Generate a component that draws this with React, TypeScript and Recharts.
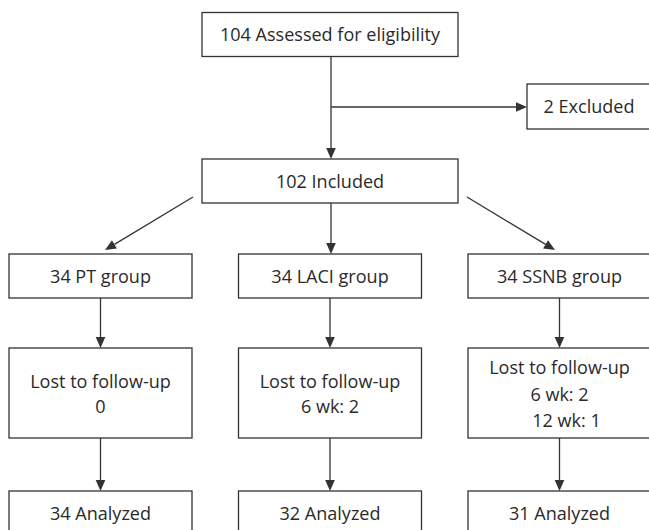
import { ComposedChart, XAxis, YAxis, ReferenceArea, ReferenceLine } from "recharts";

// flow counts
const assessed = 104;
const excluded = 2;
const included = 102;
const groupNames = ["PT", "LACI", "SSNB"];
const groupSizes = [34, 34, 34];
const lostCounts = [["0"], ["6 wk: 2"], ["6 wk: 2", "12 wk: 1"]];
const analyzed = [34, 32, 31];

// layout, in chart units (one unit = one pixel)
const W = 649;
const H = 530;
const colCenters = [100.5, 330, 559.5];
const colWidth = 183;
const mainBox = [202, 458];
const excludedBox = [527, 651];
const rows = {
  top: [12.5, 56.5],
  excluded: [84, 129],
  included: [159, 203],
  group: [254, 298],
  lost: [348, 438],
  analyzed: [491, 535],
};
const splitY = 107;

const INK = "#333";
const FONT = "'Open Sans', sans-serif";

function boxShape(lines: string[], lastShift = 0) {
  return (p: any) => {
    const { x, y, width, height } = p;
    const cx = x + width / 2;
    const cy = y + height / 2 + (lines.length > 1 ? 1 : 0);
    const gap = lines.length > 2 ? 26.5 : 25;
    const first = cy - ((lines.length - 1) * gap) / 2;
    return (
      <g>
        <rect x={x} y={y} width={width} height={height} fill="#fff" stroke={INK} strokeWidth={1.3} />
        {lines.map((t, i) => {
          const shift = i === lines.length - 1 && lines.length > 2 ? lastShift : 0;
          return (
            <text
              key={i}
              transform={`translate(${cx + shift},${first + i * gap}) scale(0.95,1)`}
              dy="0.36em"
              textAnchor="middle"
              fontFamily={FONT}
              fontSize={19}
              fill="#2a2a2a"
            >
              {t}
            </text>
          );
        })}
      </g>
    );
  };
}

function arrowShape(head: boolean) {
  return (p: any) => {
    const { x1, y1, x2, y2 } = p;
    const dx = x2 - x1;
    const dy = y2 - y1;
    const len = Math.sqrt(dx * dx + dy * dy) || 1;
    const ux = dx / len;
    const uy = dy / len;
    const hl = 11;
    const hw = 4.8;
    const bx = x2 - ux * hl;
    const by = y2 - uy * hl;
    return (
      <g>
        <line x1={x1} y1={y1} x2={head ? bx : x2} y2={head ? by : y2} stroke={INK} strokeWidth={1.3} />
        {head && (
          <polygon
            points={`${x2},${y2} ${bx - uy * hw},${by + ux * hw} ${bx + uy * hw},${by - ux * hw}`}
            fill={INK}
          />
        )}
      </g>
    );
  };
}

type Seg = { from: [number, number]; to: [number, number]; head: boolean };

const arrows: Seg[] = [
  { from: [331, rows.top[1]], to: [331, rows.included[0]], head: true },
  { from: [331, splitY], to: [excludedBox[0], splitY], head: true },
  { from: [193, 197], to: [105, 250], head: true },
  { from: [331, rows.included[1]], to: [331, rows.group[0]], head: true },
  { from: [467, 197], to: [555, 250], head: true },
  ...colCenters.map((c) => ({ from: [c, rows.group[1]], to: [c, rows.lost[0]], head: true } as Seg)),
  ...colCenters.map((c) => ({ from: [c, rows.lost[1]], to: [c, rows.analyzed[0]], head: true } as Seg)),
];

export default function App() {
  return (
    <div style={{ position: "absolute", left: 0, top: 0, width: W, height: H, background: "#fff" }}>
      <ComposedChart width={W} height={H} margin={{ top: 0, right: 0, bottom: 0, left: 0 }}>
        <XAxis type="number" dataKey="x" domain={[0, W]} hide allowDataOverflow />
        <YAxis type="number" dataKey="y" domain={[0, H]} reversed hide allowDataOverflow />

        <ReferenceArea
          x1={mainBox[0]} x2={mainBox[1]} y1={rows.top[0]} y2={rows.top[1]}
          ifOverflow="visible"
          shape={boxShape([`${assessed} Assessed for eligibility`])}
        />
        <ReferenceArea
          x1={excludedBox[0]} x2={excludedBox[1]} y1={rows.excluded[0]} y2={rows.excluded[1]}
          ifOverflow="visible"
          shape={boxShape([`${excluded} Excluded`])}
        />
        <ReferenceArea
          x1={mainBox[0]} x2={mainBox[1]} y1={rows.included[0]} y2={rows.included[1]}
          ifOverflow="visible"
          shape={boxShape([`${included} Included`])}
        />
        {groupNames.map((g, i) => (
          <ReferenceArea
            key={"g" + g}
            x1={colCenters[i] - colWidth / 2} x2={colCenters[i] + colWidth / 2}
            y1={rows.group[0]} y2={rows.group[1]}
            ifOverflow="visible"
            shape={boxShape([`${groupSizes[i]} ${g} group`])}
          />
        ))}
        {groupNames.map((g, i) => (
          <ReferenceArea
            key={"l" + g}
            x1={colCenters[i] - colWidth / 2} x2={colCenters[i] + colWidth / 2}
            y1={rows.lost[0]} y2={rows.lost[1]}
            ifOverflow="visible"
            shape={boxShape(["Lost to follow-up", ...lostCounts[i]], 7)}
          />
        ))}
        {groupNames.map((g, i) => (
          <ReferenceArea
            key={"a" + g}
            x1={colCenters[i] - colWidth / 2} x2={colCenters[i] + colWidth / 2}
            y1={rows.analyzed[0]} y2={rows.analyzed[1]}
            ifOverflow="visible"
            shape={boxShape([`${analyzed[i]} Analyzed`])}
          />
        ))}

        {arrows.map((a, i) => (
          <ReferenceLine
            key={"r" + i}
            segment={[{ x: a.from[0], y: a.from[1] }, { x: a.to[0], y: a.to[1] }]}
            ifOverflow="visible"
            stroke={INK}
            shape={arrowShape(a.head)}
          />
        ))}
      </ComposedChart>
    </div>
  );
}
